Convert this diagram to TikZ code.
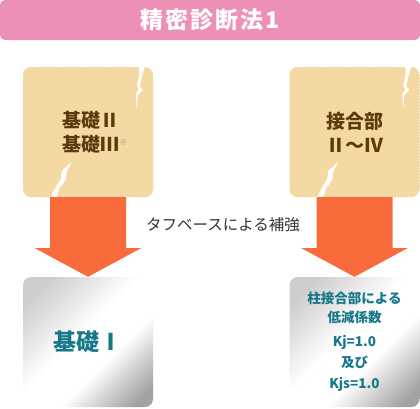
\documentclass[tikz,border=0pt]{standalone}
\usepackage{fontspec}
\setmainfont{Noto Sans CJK JP}
\newfontfamily\headfont{Noto Sans CJK JP}[LetterSpace=8]
\usetikzlibrary{calc,patterns,positioning}

\definecolor{titlepink}{HTML}{EC90B8}
\definecolor{woodbase}{HTML}{F6DDA9}
\definecolor{woodline}{HTML}{F0D397}
\definecolor{kisobrown}{HTML}{5B3A0E}
\definecolor{kisoteal}{HTML}{17788A}
\definecolor{arroworange}{HTML}{F96B3A}
\definecolor{notegray}{HTML}{A89A86}
\definecolor{metalA}{HTML}{CDCDCD}
\definecolor{metalB}{HTML}{A2A2A2}
\pgfdeclarehorizontalshading{metal}{100bp}{color(0bp)=(metalA); color(22bp)=(metalA);
  color(46bp)=(white); color(60bp)=(white); color(80bp)=(metalB); color(100bp)=(metalB)}

\begin{document}
\begin{tikzpicture}[x=1pt, y=-1pt,
  titlebar/.style={fill=titlepink, rounded corners=5pt, minimum width=420pt,
    minimum height=40pt, text=white, font=\headfont\bfseries\fontsize{23}{23}\selectfont},
  oldbox/.style={rounded corners=8pt, minimum width=130pt, minimum height=130pt,
    fill=woodbase, postaction={pattern=north east lines, pattern color=woodline}},
  newbox/.style={rounded corners=8pt, minimum width=130pt, minimum height=130pt,
    shade, shading=metal, shading angle=-45},
  oldtext/.style={text=kisobrown, font=\bfseries\fontsize{19}{24}\selectfont},
  newtext/.style={text=kisoteal, font=\bfseries\fontsize{13.5}{21}\selectfont},
  pics/crack/.style={code={
    \fill[white] (116,0) -- (122,0) -- (119,10) -- (117,20) -- (120,23) -- (115,28)
      -- (114,42) -- (113,28) -- (116,22) -- (114,19) -- (116,10) -- cycle;
    \fill[white] (49,95) -- (44,105) -- (43,113) -- (37,121) -- (34,130)
      -- (28,130) -- (32,122) -- (38,112) -- (39,104) -- cycle;
  }}]
  \useasboundingbox (0,0) rectangle (420,408);
  % ---- title ----
  \node[titlebar] (title) at (210,20) {精密診断法1};
  % ---- before ----
  \node[oldbox] (k23) at (88,132) {};
  \node[oldbox, oldtext, align=center] (sg) at (354.5,132) {接合部\\Ⅱ～Ⅳ};
  \node[oldtext, align=left, anchor=west] (k23t) at ([xshift=36pt]k23.west)
    {基礎Ⅱ\\基礎Ⅲ\raisebox{6pt}{\color{notegray}\mdseries\fontsize{8}{8}\selectfont ※}};
  \pic at (k23.north west) {crack};
  \pic at (sg.north west) {crack};
  % ---- after ----
  \node[newbox, text=kisoteal, font=\bfseries\fontsize{23}{23}\selectfont] (k1) at (88,342) {基礎Ⅰ};
  \node[newbox, newtext, align=center] (kj) at (354.5,342)
    {柱接合部による\\[-2pt]低減係数\\[3pt]Kj=1.0\\及び\\Kjs=1.0};
  % ---- block arrows ----
  \foreach \a/\b in {k23/k1, sg/kj} {
    \fill[arroworange] ([xshift=-38pt]\a.south) -- ([xshift=-38pt,yshift=-51pt]\a.south)
      -- ([xshift=-53pt,yshift=-51pt]\a.south) -- (\b.north)
      -- ([xshift=53pt,yshift=-51pt]\a.south) -- ([xshift=38pt,yshift=-51pt]\a.south)
      -- ([xshift=38pt]\a.south) -- cycle;
  }
  \node[text=black!80, font=\fontsize{15.5}{15.5}\selectfont] (tough) at (223,225) {タフベースによる補強};
\end{tikzpicture}
\end{document}
